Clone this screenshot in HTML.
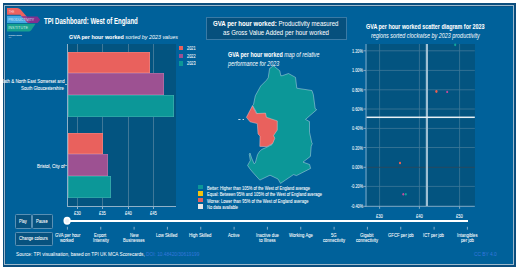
<!DOCTYPE html>
<html><head><meta charset="utf-8"><style>
html,body{margin:0;padding:0;width:520px;height:275px;overflow:hidden;background:#fff;}
body{position:relative;font-family:'Liberation Sans', sans-serif;}
.t{position:absolute;white-space:nowrap;transform-origin:0 0;}
.a{position:absolute;}
</style></head><body>
<div class="a" style="left:2.8px;top:2.9px;width:513px;height:264.1px;background:#0b4d7d;"></div>
<div class="a" style="left:4.1px;top:4.6px;width:509.8px;height:260.6px;box-sizing:border-box;border:1.5px solid #9dbacd;background:#00619a;box-shadow:inset 1px 1px 0 #0a5386;"></div>

<!-- logo -->
<svg class="a" style="left:0;top:0" width="60" height="45" viewBox="0 0 60 45">
  <defs>
    <clipPath id="cTop"><rect x="0" y="0" width="60" height="16"/></clipPath>
    <clipPath id="cBot"><rect x="0" y="16" width="60" height="30"/></clipPath>
  </defs>
  <path d="M7 15.8 H26 L30 22.9 H7 Z" fill="#45a8e2"/>
  <g clip-path="url(#cTop)">
    <path d="M7 8 H17.4 Q19.2 8 20.6 9.6 L26.2 16 Q26.8 16.6 27.8 16.6 H37.6 L40.2 19.7 L37.6 22.9 H28.6 Q27.6 22.9 26.8 22 L20.2 14.8 H7 Z" fill="#eb625f"/>
  </g>
  <g clip-path="url(#cBot)">
    <path d="M7 8 H17.4 Q19.2 8 20.6 9.6 L26.2 16 Q26.8 16.6 27.8 16.6 H37.6 L40.2 19.7 L37.6 22.9 H28.6 Q27.6 22.9 26.8 22 L20.2 14.8 H7 Z" fill="#80308f"/>
    <path d="M20 15 L26.5 16.2 L30 22.9 L26.8 22 Z" fill="#a4488a" opacity="0.7"/>
  </g>
  <path d="M7 23.8 H35.6 L31.2 30.3 Q30.5 31.4 29.1 31.4 H7 Z" fill="#17a08f"/>
  <text x="8.7" y="13.1" font-size="4" fill="#f9d0d0" font-family="Liberation Sans, sans-serif" textLength="5.8" lengthAdjust="spacingAndGlyphs">THE</text>
  <text x="8.2" y="21.2" font-size="4" fill="#cfe9f8" font-family="Liberation Sans, sans-serif" textLength="26" lengthAdjust="spacingAndGlyphs">PRODUCTIVITY</text>
  <text x="8.2" y="29.4" font-size="4" fill="#c4ece4" font-family="Liberation Sans, sans-serif" textLength="20" lengthAdjust="spacingAndGlyphs">INSTITUTE</text>
  <text x="8.4" y="35.8" font-size="2.2" font-weight="bold" fill="#f0f5f8" font-family="Liberation Sans, sans-serif" textLength="13.4" lengthAdjust="spacingAndGlyphs">PRODUCTIVITY INSTITUTE</text>
  <text x="8.4" y="38.4" font-size="1.8" fill="#c0d4e2" font-family="Liberation Sans, sans-serif" textLength="3" lengthAdjust="spacingAndGlyphs">UK</text>
</svg>
<!-- bar chart -->
<div class="a" style="left:67.5px;top:44px;width:108.5px;height:162px;background:#035480;"></div>
<div class="a" style="left:77px;top:44px;width:0.8px;height:162px;background:#3f7898;"></div>
<div class="a" style="left:102.2px;top:44px;width:0.8px;height:162px;background:#3f7898;"></div>
<div class="a" style="left:127.7px;top:44px;width:0.8px;height:162px;background:#3f7898;"></div>
<div class="a" style="left:153px;top:44px;width:0.8px;height:162px;background:#3f7898;"></div>
<div class="a" style="left:67px;top:44px;width:1px;height:163px;background:#8fb1c8;"></div>
<div class="a" style="left:67px;top:205.6px;width:109px;height:1px;background:#8fb1c8;"></div>
<div class="a" style="left:65px;top:84px;width:2px;height:0.8px;background:#8fb1c8;"></div>
<div class="a" style="left:65px;top:165.2px;width:2px;height:0.8px;background:#8fb1c8;"></div>
<div class="a" style="left:77px;top:206.5px;width:0.8px;height:2px;background:#8fb1c8;"></div>
<div class="a" style="left:102.2px;top:206.5px;width:0.8px;height:2px;background:#8fb1c8;"></div>
<div class="a" style="left:127.7px;top:206.5px;width:0.8px;height:2px;background:#8fb1c8;"></div>
<div class="a" style="left:153px;top:206.5px;width:0.8px;height:2px;background:#8fb1c8;"></div>

<div class="a" style="left:67.8px;top:52px;width:81.8px;height:21.4px;background:#e9615d;box-shadow:inset 0 0 0 0.6px rgba(255,255,255,0.25);"></div>
<div class="a" style="left:67.8px;top:73.4px;width:95.9px;height:21.5px;background:#9d5192;box-shadow:inset 0 0 0 0.6px rgba(255,255,255,0.25);"></div>
<div class="a" style="left:67.8px;top:94.9px;width:106.4px;height:21.7px;background:#0c9798;box-shadow:inset 0 0 0 0.6px rgba(255,255,255,0.25);"></div>
<div class="a" style="left:67.8px;top:133.1px;width:34.9px;height:21.3px;background:#e9615d;box-shadow:inset 0 0 0 0.6px rgba(255,255,255,0.25);"></div>
<div class="a" style="left:67.8px;top:154.4px;width:39.8px;height:21.5px;background:#9d5192;box-shadow:inset 0 0 0 0.6px rgba(255,255,255,0.25);"></div>
<div class="a" style="left:67.8px;top:175.9px;width:43.1px;height:21.9px;background:#0c9798;box-shadow:inset 0 0 0 0.6px rgba(255,255,255,0.25);"></div>

<div class="a" style="left:178.5px;top:46px;width:4.5px;height:4.4px;background:#e9615d;"></div>
<div class="a" style="left:178.5px;top:53.5px;width:4.5px;height:4.4px;background:#9d5192;"></div>
<div class="a" style="left:178.5px;top:61.3px;width:4.5px;height:4.4px;background:#0c9798;"></div>

<!-- map box -->
<div class="a" style="left:206px;top:16.5px;width:139px;height:21.2px;border:0.9px solid #3a7aa5;background:#06507d;"></div>

<!-- map -->
<svg class="a" style="left:0;top:0" width="520" height="275" viewBox="0 0 520 275">
  <path d="M273.5 65.8 L279.8 70.8 L280.8 75.8 L282.5 75.6 L288.5 73.5 L295.5 77.4 L296.8 88.2 L311.9 90.5 L313.3 94.5 L315.2 108.6 L316.7 109.7 L305.5 119.4 L309.5 121.6 L309.5 132.2 L311.8 142.8 L312.3 143.5 L311.2 146.5 L310.4 156.4 L303 162.1 L309.6 164.5 L310.6 168.4 L296.5 175.6 L293.5 174.6 L285.5 180 L280.5 183.4 L278 179 L270 175.2 L259.8 180.1 L252.5 172 L249.7 168.6 L247.6 165.4 L250.3 160.5 L249.3 154.3 L250 153.1 L251.6 158 L254.2 163.8 L255.3 162.9 L257.5 154.7 L259.5 151.5 L262 149.3 L266 147.6 L272 144.6 L268 140 L262 125 L258 115 L252.6 105.6 L253.5 104.5 L255.3 95.8 L260.7 86 L266.3 80.4 L268.2 77.8 L269.6 68.5 Z" fill="#0c9798" stroke="#d3e6ee" stroke-width="0.55" stroke-opacity="0.8"/>
  <path d="M252.4 105.8 L256.4 113.6 L265.5 113.1 L266.4 117.3 L277.3 120.9 L277.3 130 L273.6 135.5 L274.8 138.3 L272.7 143.4 L267 146.6 L259.8 146.4 L260 136 L258 134 L257.3 123.6 L250 121.8 L246.4 117.3 Z" fill="#e9615d" stroke="#f3d2d0" stroke-width="0.55" stroke-opacity="0.8"/>
  <rect x="238.3" y="119" width="2.2" height="0.9" fill="#d7e6ee"/>
  <rect x="242.6" y="119" width="1.4" height="0.9" fill="#d7e6ee"/>
</svg>

<!-- map legend -->
<div class="a" style="left:198px;top:184.6px;width:4.7px;height:4.7px;background:#0c9798;"></div>
<div class="a" style="left:198px;top:191.2px;width:4.7px;height:4.5px;background:#f4c20d;"></div>
<div class="a" style="left:198px;top:197.9px;width:4.7px;height:4.5px;background:#e9615d;"></div>
<div class="a" style="left:198px;top:204.2px;width:4.7px;height:4.6px;background:#e6e6e6;"></div>

<!-- scatter -->
<div class="a" style="left:366.5px;top:44px;width:108.3px;height:162px;background:#035480;"></div>
<svg class="a" style="left:0;top:0" width="520" height="275" viewBox="0 0 520 275">
  <g stroke="#3f7898" stroke-width="0.8">
    <line x1="379.6" y1="44" x2="379.6" y2="206" />
    <line x1="419.4" y1="44" x2="419.4" y2="206" />
    <line x1="459.6" y1="44" x2="459.6" y2="206" />
    <line x1="366.5" y1="50.8" x2="474.8" y2="50.8" />
    <line x1="366.5" y1="70.4" x2="474.8" y2="70.4" />
    <line x1="366.5" y1="89.8" x2="474.8" y2="89.8" />
    <line x1="366.5" y1="109" x2="474.8" y2="109" />
    <line x1="366.5" y1="128.4" x2="474.8" y2="128.4" />
    <line x1="366.5" y1="147.5" x2="474.8" y2="147.5" />
    <line x1="366.5" y1="186.4" x2="474.8" y2="186.4" />
  </g>
  <line x1="366.5" y1="167.3" x2="474.8" y2="167.3" stroke="#2b4a5c" stroke-width="0.9"/>
  <g stroke="#8fb1c8" stroke-width="0.9">
    <line x1="366" y1="44" x2="366" y2="206.8" />
    <line x1="365.5" y1="206.3" x2="474.8" y2="206.3" />
    <line x1="363.5" y1="50.8" x2="366" y2="50.8" />
    <line x1="363.5" y1="70.4" x2="366" y2="70.4" />
    <line x1="363.5" y1="89.8" x2="366" y2="89.8" />
    <line x1="363.5" y1="109" x2="366" y2="109" />
    <line x1="363.5" y1="128.4" x2="366" y2="128.4" />
    <line x1="363.5" y1="147.5" x2="366" y2="147.5" />
    <line x1="363.5" y1="167.3" x2="366" y2="167.3" />
    <line x1="363.5" y1="186.4" x2="366" y2="186.4" />
    <line x1="363.5" y1="206.3" x2="366" y2="206.3" />
    <line x1="379.6" y1="206.3" x2="379.6" y2="208.8" />
    <line x1="419.4" y1="206.3" x2="419.4" y2="208.8" />
    <line x1="459.6" y1="206.3" x2="459.6" y2="208.8" />
  </g>
  <rect x="425.8" y="44" width="2.2" height="162" fill="#9fc0d4"/>
  <rect x="366.5" y="116.55" width="108.3" height="1.5" fill="#e8f0f5"/>
  <ellipse cx="455.2" cy="44.8" rx="1.07" ry="1.33" fill="#11a69a"/>
  <ellipse cx="436.4" cy="91.5" rx="1.15" ry="1.43" fill="#ee5f50"/>
  <ellipse cx="447.2" cy="91.9" rx="0.98" ry="1.22" fill="#c44a9c"/>
  <ellipse cx="400" cy="163" rx="1.07" ry="1.33" fill="#ee5f50"/>
  <ellipse cx="403.3" cy="194.3" rx="0.98" ry="1.22" fill="#c44a9c"/>
  <ellipse cx="405.8" cy="194.3" rx="0.98" ry="1.22" fill="#11a69a"/>
</svg>

<!-- buttons -->
<div class="a" style="left:14.9px;top:214.4px;width:15px;height:12.3px;border:0.75px solid #5a90b4;border-radius:1.3px;background:#07527f;"></div>
<div class="a" style="left:32.1px;top:214.4px;width:18.8px;height:12.3px;border:0.75px solid #5a90b4;border-radius:1.3px;background:#07527f;"></div>
<div class="a" style="left:14.9px;top:231.9px;width:35.8px;height:12.3px;border:0.75px solid #5a90b4;border-radius:1.3px;background:#07527f;"></div>

<!-- slider -->
<div class="a" style="left:67px;top:219.5px;width:401.2px;height:2.3px;background:#ffffff;"></div>
<svg class="a" style="left:0;top:0" width="520" height="275" viewBox="0 0 520 275">
  <ellipse cx="67.1" cy="220.8" rx="3.6" ry="4" fill="#ffffff"/>
  <ellipse cx="67.1" cy="220.8" rx="2" ry="2.3" fill="#eef2f5"/>
  <g stroke="#a8c3d6" stroke-width="0.8">
    <line x1="67.4" y1="226.8" x2="67.4" y2="229.6"/>
    <line x1="100.75" y1="226.8" x2="100.75" y2="229.6"/>
    <line x1="134.1" y1="226.8" x2="134.1" y2="229.6"/>
    <line x1="167.4" y1="226.8" x2="167.4" y2="229.6"/>
    <line x1="200.75" y1="226.8" x2="200.75" y2="229.6"/>
    <line x1="234.1" y1="226.8" x2="234.1" y2="229.6"/>
    <line x1="267.4" y1="226.8" x2="267.4" y2="229.6"/>
    <line x1="300.75" y1="226.8" x2="300.75" y2="229.6"/>
    <line x1="334.1" y1="226.8" x2="334.1" y2="229.6"/>
    <line x1="367.4" y1="226.8" x2="367.4" y2="229.6"/>
    <line x1="400.75" y1="226.8" x2="400.75" y2="229.6"/>
    <line x1="434.1" y1="226.8" x2="434.1" y2="229.6"/>
    <line x1="467.4" y1="226.8" x2="467.4" y2="229.6"/>
  </g>
</svg>

<div class="t" style="left:44.20px;top:17.00px;font-size:8.4px;line-height:8.4px;transform:scaleX(0.7234)"><span style="color:#ffffff;font-weight:bold;-webkit-text-stroke:0.05px #ffffff;">TPI Dashboard: West of England</span></div><div class="t" style="left:68.90px;top:34.00px;font-size:6.2px;line-height:6.2px;transform:scaleX(0.8707)"><span style="color:#ffffff;font-weight:bold;-webkit-text-stroke:0.05px #ffffff;">GVA per hour worked</span><span style="color:#ffffff;font-style:italic;"> sorted by 2023 values</span></div><div class="t" style="left:187.30px;top:46.00px;font-size:5.2px;line-height:5.2px;transform:scaleX(0.7448)"><span style="color:#ffffff;-webkit-text-stroke:0.06px #ffffff;">2021</span></div><div class="t" style="left:187.30px;top:54.00px;font-size:5.2px;line-height:5.2px;transform:scaleX(0.7448)"><span style="color:#ffffff;-webkit-text-stroke:0.06px #ffffff;">2022</span></div><div class="t" style="left:187.30px;top:61.00px;font-size:5.2px;line-height:5.2px;transform:scaleX(0.7448)"><span style="color:#ffffff;-webkit-text-stroke:0.06px #ffffff;">2023</span></div><div class="t" style="left:0.60px;top:79.00px;font-size:5.5px;line-height:5.5px;transform:scaleX(0.7970)"><span style="color:#ffffff;-webkit-text-stroke:0.06px #ffffff;">Bath &amp; North East Somerset and</span></div><div class="t" style="left:21.40px;top:86.00px;font-size:5.5px;line-height:5.5px;transform:scaleX(0.7864)"><span style="color:#ffffff;-webkit-text-stroke:0.06px #ffffff;">South Gloucestershire</span></div><div class="t" style="left:37.20px;top:164.00px;font-size:5.5px;line-height:5.5px;transform:scaleX(0.8162)"><span style="color:#ffffff;-webkit-text-stroke:0.06px #ffffff;">Bristol, City of</span></div><div class="t" style="left:73.95px;top:212.00px;font-size:4.9px;line-height:4.9px;transform:scaleX(0.8444)"><span style="color:#ffffff;-webkit-text-stroke:0.06px #ffffff;">£30</span></div><div class="t" style="left:99.25px;top:212.00px;font-size:4.9px;line-height:4.9px;transform:scaleX(0.8444)"><span style="color:#ffffff;-webkit-text-stroke:0.06px #ffffff;">£35</span></div><div class="t" style="left:124.75px;top:212.00px;font-size:4.9px;line-height:4.9px;transform:scaleX(0.8444)"><span style="color:#ffffff;-webkit-text-stroke:0.06px #ffffff;">£40</span></div><div class="t" style="left:150.05px;top:212.00px;font-size:4.9px;line-height:4.9px;transform:scaleX(0.8444)"><span style="color:#ffffff;-webkit-text-stroke:0.06px #ffffff;">£45</span></div><div class="t" style="left:213.45px;top:21.00px;font-size:7.1px;line-height:7.1px;transform:scaleX(0.8557)"><span style="color:#ffffff;font-weight:bold;-webkit-text-stroke:0.05px #ffffff;">GVA per hour worked:</span><span style="color:#ffffff;-webkit-text-stroke:0.02px #ffffff;"> Productivity measured</span></div><div class="t" style="left:223.00px;top:30.00px;font-size:7.1px;line-height:7.1px;transform:scaleX(0.8597)"><span style="color:#ffffff;-webkit-text-stroke:0.02px #ffffff;">as Gross Value Added per hour worked</span></div><div class="t" style="left:228.00px;top:52.00px;font-size:6.8px;line-height:6.8px;transform:scaleX(0.7916)"><span style="color:#ffffff;font-weight:bold;-webkit-text-stroke:0.05px #ffffff;">GVA per hour worked</span><span style="color:#ffffff;font-style:italic;"> map of relative</span></div><div class="t" style="left:228.00px;top:61.00px;font-size:6.8px;line-height:6.8px;transform:scaleX(0.7877)"><span style="color:#ffffff;font-style:italic;">performance for 2023</span></div><div class="t" style="left:207.00px;top:187.00px;font-size:4.8px;line-height:4.8px;transform:scaleX(0.8421)"><span style="color:#ffffff;-webkit-text-stroke:0.06px #ffffff;">Better: Higher than 105% of the West of England average</span></div><div class="t" style="left:207.00px;top:193.00px;font-size:4.8px;line-height:4.8px;transform:scaleX(0.8461)"><span style="color:#ffffff;-webkit-text-stroke:0.06px #ffffff;">Equal: Between 95% and 105% of the West of England average</span></div><div class="t" style="left:207.00px;top:200.00px;font-size:4.8px;line-height:4.8px;transform:scaleX(0.8489)"><span style="color:#ffffff;-webkit-text-stroke:0.06px #ffffff;">Worse: Lower than 95% of the West of England average</span></div><div class="t" style="left:207.00px;top:206.00px;font-size:4.8px;line-height:4.8px;transform:scaleX(0.8361)"><span style="color:#ffffff;-webkit-text-stroke:0.06px #ffffff;">No data available</span></div><div class="t" style="left:366.20px;top:24.00px;font-size:6.7px;line-height:6.7px;transform:scaleX(0.8052)"><span style="color:#ffffff;font-weight:bold;-webkit-text-stroke:0.05px #ffffff;">GVA per hour worked scatter diagram for 2023</span></div><div class="t" style="left:371.00px;top:33.00px;font-size:6.7px;line-height:6.7px;transform:scaleX(0.8100)"><span style="color:#ffffff;font-style:italic;">regions sorted clockwise by 2023 productivity</span></div><div class="t" style="left:352.28px;top:49.00px;font-size:5.3px;line-height:5.3px;transform:scaleX(0.7200)"><span style="color:#ffffff;-webkit-text-stroke:0.06px #ffffff;">1.20%</span></div><div class="t" style="left:352.28px;top:68.00px;font-size:5.3px;line-height:5.3px;transform:scaleX(0.7200)"><span style="color:#ffffff;-webkit-text-stroke:0.06px #ffffff;">1.00%</span></div><div class="t" style="left:352.28px;top:88.00px;font-size:5.3px;line-height:5.3px;transform:scaleX(0.7200)"><span style="color:#ffffff;-webkit-text-stroke:0.06px #ffffff;">0.80%</span></div><div class="t" style="left:352.28px;top:107.00px;font-size:5.3px;line-height:5.3px;transform:scaleX(0.7200)"><span style="color:#ffffff;-webkit-text-stroke:0.06px #ffffff;">0.60%</span></div><div class="t" style="left:352.28px;top:126.00px;font-size:5.3px;line-height:5.3px;transform:scaleX(0.7200)"><span style="color:#ffffff;-webkit-text-stroke:0.06px #ffffff;">0.40%</span></div><div class="t" style="left:352.28px;top:146.00px;font-size:5.3px;line-height:5.3px;transform:scaleX(0.7200)"><span style="color:#ffffff;-webkit-text-stroke:0.06px #ffffff;">0.20%</span></div><div class="t" style="left:352.28px;top:165.00px;font-size:5.3px;line-height:5.3px;transform:scaleX(0.7200)"><span style="color:#ffffff;-webkit-text-stroke:0.06px #ffffff;">0.00%</span></div><div class="t" style="left:351.01px;top:184.00px;font-size:5.3px;line-height:5.3px;transform:scaleX(0.7200)"><span style="color:#ffffff;-webkit-text-stroke:0.06px #ffffff;">-0.20%</span></div><div class="t" style="left:351.01px;top:204.00px;font-size:5.3px;line-height:5.3px;transform:scaleX(0.7200)"><span style="color:#ffffff;-webkit-text-stroke:0.06px #ffffff;">-0.40%</span></div><div class="t" style="left:376.15px;top:215.00px;font-size:4.9px;line-height:4.9px;transform:scaleX(0.8444)"><span style="color:#ffffff;-webkit-text-stroke:0.06px #ffffff;">£30</span></div><div class="t" style="left:415.95px;top:215.00px;font-size:4.9px;line-height:4.9px;transform:scaleX(0.8444)"><span style="color:#ffffff;-webkit-text-stroke:0.06px #ffffff;">£40</span></div><div class="t" style="left:456.35px;top:215.00px;font-size:4.9px;line-height:4.9px;transform:scaleX(0.8444)"><span style="color:#ffffff;-webkit-text-stroke:0.06px #ffffff;">£50</span></div><div class="t" style="left:19.30px;top:219.00px;font-size:5.2px;line-height:5.2px;transform:scaleX(0.7628)"><span style="color:#ffffff;-webkit-text-stroke:0.06px #ffffff;">Play</span></div><div class="t" style="left:36.00px;top:219.00px;font-size:5.2px;line-height:5.2px;transform:scaleX(0.7949)"><span style="color:#ffffff;-webkit-text-stroke:0.06px #ffffff;">Pause</span></div><div class="t" style="left:19.00px;top:236.00px;font-size:5.2px;line-height:5.2px;transform:scaleX(0.7897)"><span style="color:#ffffff;-webkit-text-stroke:0.06px #ffffff;">Change colours</span></div><div class="t" style="left:54.52px;top:233.00px;font-size:5.3px;line-height:5.3px;transform:scaleX(0.8000)"><span style="color:#ffffff;-webkit-text-stroke:0.06px #ffffff;">GVA per hour</span></div><div class="t" style="left:60.37px;top:238.00px;font-size:5.3px;line-height:5.3px;transform:scaleX(0.8000)"><span style="color:#ffffff;-webkit-text-stroke:0.06px #ffffff;">worked</span></div><div class="t" style="left:94.41px;top:233.00px;font-size:5.3px;line-height:5.3px;transform:scaleX(0.8000)"><span style="color:#ffffff;-webkit-text-stroke:0.06px #ffffff;">Export</span></div><div class="t" style="left:92.64px;top:238.00px;font-size:5.3px;line-height:5.3px;transform:scaleX(0.8000)"><span style="color:#ffffff;-webkit-text-stroke:0.06px #ffffff;">Intensity</span></div><div class="t" style="left:129.62px;top:233.00px;font-size:5.3px;line-height:5.3px;transform:scaleX(0.8000)"><span style="color:#ffffff;-webkit-text-stroke:0.06px #ffffff;">New</span></div><div class="t" style="left:123.03px;top:238.00px;font-size:5.3px;line-height:5.3px;transform:scaleX(0.8000)"><span style="color:#ffffff;-webkit-text-stroke:0.06px #ffffff;">Businesses</span></div><div class="t" style="left:156.48px;top:233.00px;font-size:5.3px;line-height:5.3px;transform:scaleX(0.8000)"><span style="color:#ffffff;-webkit-text-stroke:0.06px #ffffff;">Low Skilled</span></div><div class="t" style="left:189.34px;top:233.00px;font-size:5.3px;line-height:5.3px;transform:scaleX(0.8000)"><span style="color:#ffffff;-webkit-text-stroke:0.06px #ffffff;">High Skilled</span></div><div class="t" style="left:228.09px;top:233.00px;font-size:5.3px;line-height:5.3px;transform:scaleX(0.8000)"><span style="color:#ffffff;-webkit-text-stroke:0.06px #ffffff;">Active</span></div><div class="t" style="left:255.77px;top:233.00px;font-size:5.3px;line-height:5.3px;transform:scaleX(0.8000)"><span style="color:#ffffff;-webkit-text-stroke:0.06px #ffffff;">Inactive due</span></div><div class="t" style="left:258.84px;top:238.00px;font-size:5.3px;line-height:5.3px;transform:scaleX(0.8000)"><span style="color:#ffffff;-webkit-text-stroke:0.06px #ffffff;">to Illness</span></div><div class="t" style="left:288.56px;top:233.00px;font-size:5.3px;line-height:5.3px;transform:scaleX(0.8000)"><span style="color:#ffffff;-webkit-text-stroke:0.06px #ffffff;">Working Age</span></div><div class="t" style="left:331.04px;top:233.00px;font-size:5.3px;line-height:5.3px;transform:scaleX(0.8000)"><span style="color:#ffffff;-webkit-text-stroke:0.06px #ffffff;">5G</span></div><div class="t" style="left:322.79px;top:238.00px;font-size:5.3px;line-height:5.3px;transform:scaleX(0.8000)"><span style="color:#ffffff;-webkit-text-stroke:0.06px #ffffff;">connectivity</span></div><div class="t" style="left:360.48px;top:233.00px;font-size:5.3px;line-height:5.3px;transform:scaleX(0.8000)"><span style="color:#ffffff;-webkit-text-stroke:0.06px #ffffff;">Gigabit</span></div><div class="t" style="left:356.12px;top:238.00px;font-size:5.3px;line-height:5.3px;transform:scaleX(0.8000)"><span style="color:#ffffff;-webkit-text-stroke:0.06px #ffffff;">connectivity</span></div><div class="t" style="left:387.70px;top:233.00px;font-size:5.3px;line-height:5.3px;transform:scaleX(0.8000)"><span style="color:#ffffff;-webkit-text-stroke:0.06px #ffffff;">GFCF per job</span></div><div class="t" style="left:423.42px;top:233.00px;font-size:5.3px;line-height:5.3px;transform:scaleX(0.8000)"><span style="color:#ffffff;-webkit-text-stroke:0.06px #ffffff;">ICT per job</span></div><div class="t" style="left:456.95px;top:233.00px;font-size:5.3px;line-height:5.3px;transform:scaleX(0.8000)"><span style="color:#ffffff;-webkit-text-stroke:0.06px #ffffff;">Intangibles</span></div><div class="t" style="left:460.72px;top:238.00px;font-size:5.3px;line-height:5.3px;transform:scaleX(0.8000)"><span style="color:#ffffff;-webkit-text-stroke:0.06px #ffffff;">per job</span></div><div class="t" style="left:15.50px;top:251.00px;font-size:6.2px;line-height:6.2px;transform:scaleX(0.7653)"><span style="color:#ffffff;-webkit-text-stroke:0.02px #ffffff;">Source: TPI visualisation, based on TPI UK MCA Scorecards,</span><span style="color:#3577dc;-webkit-text-stroke:0.02px #3577dc;"> DOI: 10.48420/30619199</span></div><div class="t" style="left:473.80px;top:251.00px;font-size:6.2px;line-height:6.2px;transform:scaleX(0.7828)"><span style="color:#3577dc;-webkit-text-stroke:0.02px #3577dc;">CC BY 4.0</span></div>
</body></html>
